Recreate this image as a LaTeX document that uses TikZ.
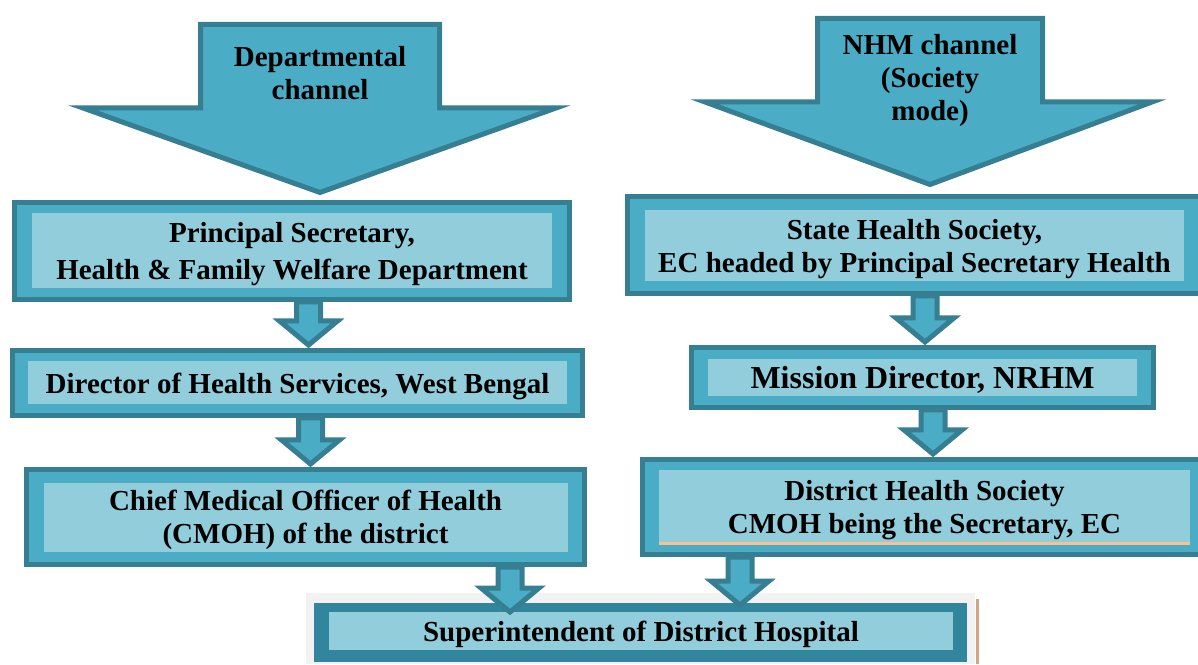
\documentclass[tikz,border=0pt]{standalone}
\usepackage{fontspec}
\setmainfont{Liberation Serif}
\usetikzlibrary{calc}

\definecolor{tealdark}{HTML}{367E91}
\definecolor{tealmid}{HTML}{4BACC6}
\definecolor{teallight}{HTML}{92CDDC}
\definecolor{tealdeep}{HTML}{31859C}
\definecolor{paleorange}{HTML}{FAC090}
\definecolor{tanline}{HTML}{D3A583}
\definecolor{bggrey}{HTML}{F2F2F2}

% small block arrow: x taken from #1, tip height from #2
\newcommand{\flowarrow}[2]{%
\draw[blockarrow] let \p1=#1, \p2=#2 in
  (\x1-12pt,\y1) -- (\x1+12pt,\y1) -- (\x1+12pt,\y2+27pt) -- (\x1+29pt,\y2+27pt)
  -- (\x1,\y2+3pt) -- (\x1-29pt,\y2+27pt) -- (\x1-12pt,\y2+27pt) -- cycle;}

\begin{document}
\begin{tikzpicture}%
[x=1pt, y=1pt,
outerbox/.style={draw=tealdark, line width=5pt, fill=tealmid, inner sep=0pt},
innerbox/.style={fill=teallight, inner sep=0pt, align=center, text depth=0pt,
  font=\bfseries\fontsize{29}{33}\selectfont},
blockarrow/.style={draw=tealdark, line width=5pt, fill=tealmid, line join=miter},
bigtext/.style={align=center, font=\bfseries\fontsize{29}{33}\selectfont}]

\useasboundingbox (0,0) rectangle (1198,664);
\clip (0,0) rectangle (1198,664);

% backdrop of the last box
\fill[bggrey] (306,0) rectangle (975,71);
\draw[tanline, line width=3pt] (977.5,65) -- (977.5,0);

% departmental channel
\draw[blockarrow] (200.5,639.5) -- (439.5,639.5) -- (439.5,556) -- (556,556)
  -- (320,471.5) -- (83,556) -- (200.5,556) -- cycle;
\node[bigtext] (dept) at (320,591) {Departmental\\channel};

% NHM channel
\draw[blockarrow] (817.5,645.5) -- (1042.5,645.5) -- (1042.5,562) -- (1152,562)
  -- (930,479.5) -- (705,562) -- (817.5,562) -- cycle;
\node[bigtext] (nhm) at (930,583) {NHM channel\\(Society\\mode)};

% left column
\node[outerbox, minimum width=555, minimum height=97] (ps) at (292,413) {};
\node[innerbox, minimum width=520, minimum height=75] (pstext) at (ps)
  {Principal Secretary,\\[4pt] Health \& Family Welfare Department};

\node[outerbox, minimum width=570, minimum height=65] (dhs) at (297.5,281) {};
\node[innerbox, minimum width=539, minimum height=43] (dhstext) at (dhs)
  {Director of Health Services, West Bengal};

\node[outerbox, minimum width=558, minimum height=95] (cmoh) at (305.5,147) {};
\node[innerbox, minimum width=524, minimum height=69] (cmohtext) at (cmoh)
  {Chief Medical Officer of Health\\(CMOH) of the district};

% right column
\node[outerbox, minimum width=578, minimum height=97] (shs) at (916.5,419) {};
\node[innerbox, minimum width=539, minimum height=71] (shstext) at (914.5,418)
  {State Health Society,\\EC headed by Principal Secretary Health};

\node[outerbox, minimum width=462, minimum height=60] (md) at (922.5,286.5) {};
\node[innerbox, minimum width=429, minimum height=37,
  font=\bfseries\fontsize{32}{36}\selectfont] (mdtext) at (md)
  {Mission Director, NRHM};

\node[outerbox, minimum width=564, minimum height=95] (dhsoc) at (924.5,157) {};
\node[innerbox, minimum width=531, minimum height=73] (dhsoctext) at (dhsoc)
  {District Health Society\\CMOH being the Secretary, EC};
\draw[paleorange, line width=2.5pt] (dhsoctext.south west) -- (dhsoctext.south east);

% bottom
\node[outerbox, draw=tealdeep, fill=tealdeep, minimum width=648,
  minimum height=54] (sup) at (640.5,31.5) {};
\node[innerbox, minimum width=624, minimum height=38] (suptext) at (641,33)
  {Superintendent of District Hospital};

% arrows
\flowarrow{([xshift=16.5pt]ps.south)}{(dhs.north)}
\flowarrow{([xshift=13pt]dhs.south)}{(cmoh.north)}
\flowarrow{([xshift=8.5pt]shs.south)}{(md.north)}
\flowarrow{([xshift=10.5pt]md.south)}{(dhsoc.north)}
\flowarrow{([xshift=204.5pt]cmoh.south)}{([yshift=-12pt]sup.north)}
\flowarrow{([xshift=-184.5pt]dhsoc.south)}{([yshift=-5pt]sup.north)}
\end{tikzpicture}
\end{document}
